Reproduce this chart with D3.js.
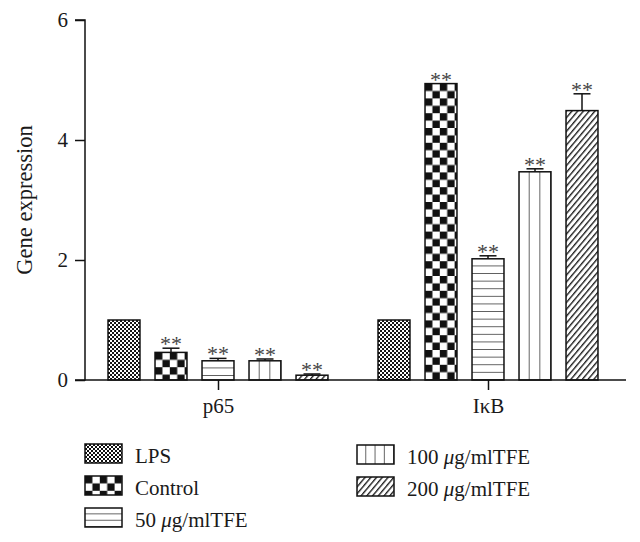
<!DOCTYPE html>
<html>
<head>
<meta charset="utf-8">
<script src="https://cdn.jsdelivr.net/npm/d3@7/dist/d3.min.js"></script>
<style>
  html, body { margin: 0; padding: 0; background: #fff; }
  svg { display: block; }
  text { font-family: "Liberation Serif", "DejaVu Serif", serif; fill: #1a1a1a; }
</style>
</head>
<body>
<svg id="chart" width="640" height="542"></svg>
<script>
// ---- data ----
const groups = ["p65", "IκB"];
const seriesKeys = ["LPS", "Control", "50", "100", "200"];
const seriesLabels = ["LPS", "Control", "50 μg/mlTFE", "100 μg/mlTFE", "200 μg/mlTFE"];
const p65Values = [1.0, 0.46, 0.32, 0.32, 0.08];
const p65Errors = [0, 0.07, 0.04, 0.03, 0.02];
const ikbValues = [1.0, 4.94, 2.02, 3.47, 4.49];
const ikbErrors = [0, 0, 0.05, 0.05, 0.28];
const significant = [false, true, true, true, true];
const yTicks = [0, 2, 4, 6];

const groupValues = [p65Values, ikbValues];
const groupErrors = [p65Errors, ikbErrors];

// ---- layout ----
const svg = d3.select("#chart");
const axisX = 85, axisRight = 626, baseY = 380, topY = 20;

const y = d3.scaleLinear().domain([0, 6]).range([baseY, topY]);
const x0 = d3.scalePoint().domain(groups).range([83, 623]).padding(0.5);
const x1 = d3.scaleBand().domain(seriesKeys).range([-117.5, 117.5]).paddingInner(0.32).paddingOuter(0.16);

const defs = svg.append("defs");
let patId = 0;
function makePattern(key, bx, by, bw, bh, legend) {
  const id = "p" + (patId++);
  let p;
  if (key === "LPS") {
    p = defs.append("pattern").attr("id", id).attr("patternUnits", "userSpaceOnUse")
      .attr("x", bx).attr("y", by).attr("width", 4).attr("height", 4);
    p.append("rect").attr("width", 4).attr("height", 4).attr("fill", "#fff");
    p.append("rect").attr("width", 2).attr("height", 2).attr("fill", "#111");
    p.append("rect").attr("x", 2).attr("y", 2).attr("width", 2).attr("height", 2).attr("fill", "#111");
  } else if (key === "Control") {
    const c = 7.4;
    p = defs.append("pattern").attr("id", id).attr("patternUnits", "userSpaceOnUse")
      .attr("x", bx).attr("y", by).attr("width", 2 * c).attr("height", 2 * c);
    p.append("rect").attr("width", 2 * c).attr("height", 2 * c).attr("fill", "#fff");
    p.append("rect").attr("width", c).attr("height", c).attr("fill", "#111");
    p.append("rect").attr("x", c).attr("y", c).attr("width", c).attr("height", c).attr("fill", "#111");
  } else if (key === "50") {
    const s = legend ? bh / 3 : 7.6;
    p = defs.append("pattern").attr("id", id).attr("patternUnits", "userSpaceOnUse")
      .attr("x", bx).attr("y", by).attr("width", 10).attr("height", s);
    p.append("rect").attr("width", 10).attr("height", s).attr("fill", "#fff");
    p.append("line").attr("x1", 0).attr("x2", 10).attr("y1", s).attr("y2", s)
      .attr("stroke", "#111").attr("stroke-width", 1.3);
  } else if (key === "100") {
    const s = legend ? bw / 4 : bw / 3;
    p = defs.append("pattern").attr("id", id).attr("patternUnits", "userSpaceOnUse")
      .attr("x", bx).attr("y", by).attr("width", s).attr("height", 10);
    p.append("rect").attr("width", s).attr("height", 10).attr("fill", "#fff");
    p.append("line").attr("x1", s).attr("x2", s).attr("y1", 0).attr("y2", 10)
      .attr("stroke", "#111").attr("stroke-width", 1.3);
  } else {
    const s = 4.4;
    p = defs.append("pattern").attr("id", id).attr("patternUnits", "userSpaceOnUse")
      .attr("x", bx).attr("y", by).attr("width", s).attr("height", 10)
      .attr("patternTransform", "rotate(40)");
    p.append("rect").attr("width", s).attr("height", 10).attr("fill", "#fff");
    p.append("line").attr("x1", 0.7).attr("x2", 0.7).attr("y1", 0).attr("y2", 10)
      .attr("stroke", "#111").attr("stroke-width", 1.3);
  }
  return "url(#" + id + ")";
}

// ---- bars ----
const barData = [];
groups.forEach((g, gi) => {
  seriesKeys.forEach((k, si) => {
    barData.push({ g, k, si, v: groupValues[gi][si], e: groupErrors[gi][si], sig: significant[si] });
  });
});

const barsG = svg.append("g");
barData.forEach(d => {
  const bx = x0(d.g) + x1(d.k);
  const bw = x1.bandwidth();
  const by = y(d.v);
  const bh = y(0) - y(d.v);
  const ey = y(d.v + d.e);
  if (d.e > 0) {
    barsG.append("line").attr("x1", bx + bw / 2).attr("x2", bx + bw / 2)
      .attr("y1", by).attr("y2", ey).attr("stroke", "#111").attr("stroke-width", 1.5);
    barsG.append("line").attr("x1", bx + bw / 2 - 8.5).attr("x2", bx + bw / 2 + 8.5)
      .attr("y1", ey).attr("y2", ey).attr("stroke", "#111").attr("stroke-width", 1.5);
  }
  barsG.append("rect").attr("x", bx).attr("y", by).attr("width", bw).attr("height", bh)
    .attr("fill", makePattern(d.k, bx, by, bw, bh, false))
    .attr("stroke", "#111").attr("stroke-width", 1.5);
  if (d.sig) {
    barsG.append("text").attr("x", bx + bw / 2).attr("y", ey + 3)
      .attr("text-anchor", "middle").attr("font-size", 22).style("fill", "#444")
      .text("**");
  }
});

// ---- axes ----
const yAxis = d3.axisLeft(y).tickValues(yTicks).tickSize(10).tickPadding(7).tickFormat(d3.format("d"));
const yg = svg.append("g").attr("transform", `translate(${axisX},0)`).call(yAxis);
yg.select(".domain").attr("d", `M-10,${topY}H0V${baseY}H-10`).attr("stroke", "#111").attr("stroke-width", 1.5);
yg.selectAll(".tick line").attr("stroke", "#111").attr("stroke-width", 1.5);
yg.selectAll(".tick text").attr("font-family", "Liberation Serif, serif").attr("font-size", 21).style("fill", "#1a1a1a");

const xAxis = d3.axisBottom(x0).tickSize(10).tickPadding(8).tickSizeOuter(0);
const xg = svg.append("g").attr("transform", `translate(0,${baseY})`).call(xAxis);
xg.select(".domain").attr("d", `M${axisX},0H${axisRight}`).attr("stroke", "#111").attr("stroke-width", 1.5);
xg.selectAll(".tick line").attr("stroke", "#111").attr("stroke-width", 1.5);
xg.selectAll(".tick text").attr("font-family", "Liberation Serif, serif").attr("font-size", 21).style("fill", "#1a1a1a");

svg.append("text").attr("transform", "translate(32,200) rotate(-90)")
  .attr("text-anchor", "middle").attr("font-size", 22.5).text("Gene expression");

// ---- legend ----
const legendPos = [[85, 444], [85, 476], [85, 508], [357, 445], [357, 477]];
const sw = 37, sh = 19;
seriesKeys.forEach((k, i) => {
  const [lx, ly] = legendPos[i];
  svg.append("rect").attr("x", lx).attr("y", ly).attr("width", sw).attr("height", sh)
    .attr("fill", makePattern(k, lx, ly, sw, sh, true))
    .attr("stroke", "#111").attr("stroke-width", 1.5);
  const t = svg.append("text").attr("x", lx + 50).attr("y", ly + sh - 0.5).attr("font-size", 21);
  const lab = seriesLabels[i];
  const mi = lab.indexOf("μ");
  if (mi >= 0) {
    t.append("tspan").text(lab.slice(0, mi));
    t.append("tspan").attr("font-style", "italic").text("μ");
    t.append("tspan").text(lab.slice(mi + 1));
  } else {
    t.text(lab);
  }
});
</script>
</body>
</html>
